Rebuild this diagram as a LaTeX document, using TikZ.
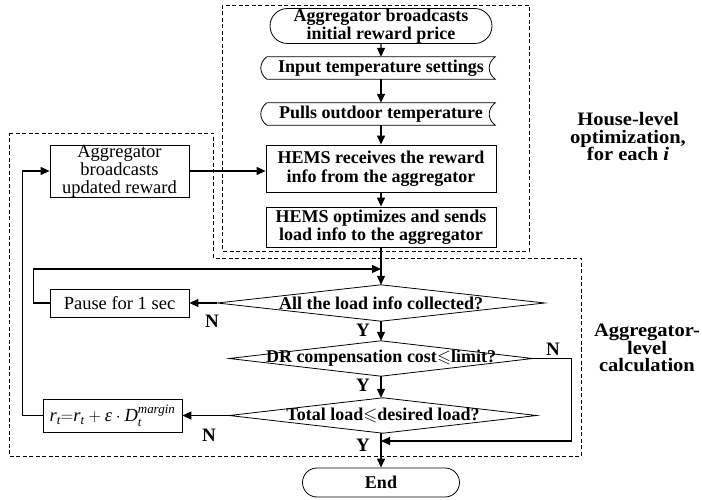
\documentclass[tikz,border=0pt]{standalone}
\usepackage{fontspec}
\usepackage{amsmath,amssymb}
\setmainfont{Liberation Serif}
\newfontfamily\sidefont[FakeStretch=1.08]{Liberation Serif}
\usetikzlibrary{arrows.meta,shapes.misc,calc,backgrounds}
\tikzset{
  txt/.style={font=\fontsize{18}{18.5}\selectfont\bfseries, align=center, inner sep=0pt},
  rtxt/.style={font=\fontsize{18.5}{18}\selectfont, align=center, inner sep=0pt},
  shapeline/.style={line width=0.8pt},
  pbox/.style={txt, draw, shapeline, minimum width=230pt},
  rbox/.style={rtxt, draw, shapeline, minimum width=139pt},
  term/.style={txt, draw, shapeline, rounded rectangle, minimum height=35pt},
  sdata/.style={txt, minimum width=228pt, minimum height=22pt},
  dia/.style={txt},
  arr/.style={line width=1.2pt, -{Triangle[length=9pt,width=8pt]}},
  dbox/.style={line width=0.7pt, dash pattern=on 4pt off 2.5pt},
  yn/.style={font=\fontsize{19}{19}\selectfont\bfseries, inner sep=0pt},
  side/.style={font=\fontsize{19}{17.5}\sidefont\bfseries, align=center, inner sep=0pt}
}
\begin{document}
\begin{tikzpicture}[x=1pt,y=-1pt]
\useasboundingbox (0,0) rectangle (702,500);
% dashed group frames
\draw[dbox] (222,5) rectangle (529,251);
\draw[dbox] (9,133) -- (213,133) -- (213,258) -- (581,258) -- (581,456) -- (9,456) -- cycle;

% house-level nodes
\node[term, minimum width=222pt] (start) at (381,26) {Aggregator broadcasts\\initial reward price};
\node[sdata] (in1) at (381,68) {Input temperature settings};
\node[sdata] (in2) at (381,114) {Pulls outdoor temperature};
\node[pbox, minimum height=47pt] (hr) at (381,168.5) {HEMS receives the reward\\info from the aggregator};
\node[pbox, minimum height=40pt] (ho) at (381,227) {HEMS optimizes and sends\\load info to the aggregator};

% aggregator-level nodes
\node[dia, minimum width=327pt, minimum height=36pt] (d1) at (381,303) {All the load info collected?};
\node[dia, minimum width=303pt, minimum height=35pt] (d2) at (381,358.5) {DR compensation cost$\leqslant$limit?};
\node[dia, minimum width=307pt, minimum height=35pt] (d3) at (383,415.5) {Total load$\leqslant$desired load?};
\node[term, minimum width=157pt, minimum height=29pt] (end) at (381,482.5) {End};
\node[rbox, minimum height=28pt] (pause) at (119.5,303) {Pause for 1 sec};
\node[rbox, minimum height=33pt] (form) at (112.5,415.5) {$\textit{r}_{\textit{t}}{=}\textit{r}_{\textit{t}}+\textit{ε}\cdot\textit{D}_{\textit{t}}^{\textit{margin}}$};
\node[rbox, minimum height=52pt] (upd) at (119.5,171) {Aggregator\\broadcasts\\updated reward};

\begin{pgfonlayer}{background}
\foreach \n in {in1,in2}{
  \draw[shapeline] (\n.north west) -- (\n.north east)
     .. controls ($(\n.north east)+(-8,6)$) and ($(\n.south east)+(-8,-6)$) .. (\n.south east) -- (\n.south west)
     .. controls ($(\n.south west)+(-8,-6)$) and ($(\n.north west)+(-8,6)$) .. (\n.north west);
}
\foreach \n in {d1,d2,d3}{
  \draw[shapeline] (\n.west) -- (\n.north) -- (\n.east) -- (\n.south) -- cycle;
}
\end{pgfonlayer}

% connectors
\coordinate (j1) at (381,269);
\coordinate (j2) at (381,441);
\draw[arr] (start) -- (in1);
\draw[arr] (in1) -- (in2);
\draw[arr] (in2) -- (hr);
\draw[arr] (hr) -- (ho);
\draw[arr] (ho.south) -- (d1.north);
\draw[arr] (d1.west) -- (pause.east);
\draw[arr] (pause.west) -- ++(-16,0) |- (j1);
\draw[arr] (d1.south) -- (d2.north -| d1.south);
\draw[arr] (d2.south) -- (d3.north -| d2.south);
\draw[arr] (d3.south -| d2.south) -- (end.north);
\draw[arr] (d2.east) -- ++(38.5,0) |- (j2);
\draw[arr] (d3.west) -- (form.east);
\draw[arr] (form.west) -- ++(-20,0) |- (upd.west);
\draw[arr] (upd.east) -- (upd.east -| hr.west);

% Y / N labels
\node[yn] (n1) at (212,321) {N};
\node[yn] (y1) at (363,330) {Y};
\node[yn] (y2) at (363,385) {Y};
\node[yn] (n2) at (553,349) {N};
\node[yn] (n3) at (209,435) {N};
\node[yn] (y3) at (363,445) {Y};

% side labels
\node[side] (hl) at (628,137) {House-level\\optimization,\\for each \textit{i}};
\node[side] (al) at (647,348) {Aggregator-\\level\\calculation};
\end{tikzpicture}
\end{document}
